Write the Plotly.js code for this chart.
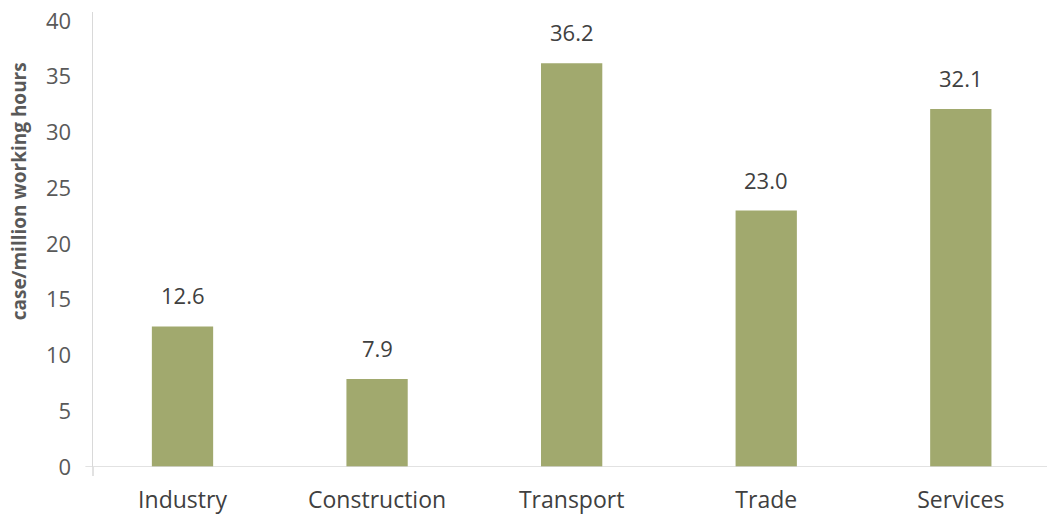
<!DOCTYPE html>
<html>
<head>
<meta charset="utf-8">
<script src="https://cdn.plot.ly/plotly-3.0.1.min.js"></script>
<style>html,body{margin:0;padding:0;background:#fff;}#chart{width:1047px;height:515px;}</style>
</head>
<body>
<div id="chart"></div>
<script>
const categories = ["Industry", "Construction", "Transport", "Trade", "Services"];
const values = [12.6, 7.9, 36.2, 23.0, 32.1];
const valueLabels = ["12.6", "7.9", "36.2", "23.0", "32.1"];
const yTicks = [0, 5, 10, 15, 20, 25, 30, 35, 40];

const FONT = '"Open Sans", "Noto Sans", sans-serif';

const trace = {
  type: 'bar',
  x: categories.map((c, i) => i),
  y: values,
  width: 0.315,
  marker: {color: '#a1a96e', line: {width: 0}},
  hoverinfo: 'skip'
};

const annotations = values.map((v, i) => ({
  x: i, y: v, xref: 'x', yref: 'y',
  text: valueLabels[i], showarrow: false,
  yanchor: 'bottom', yshift: 14,
  font: {family: FONT, size: 22, color: '#404040'}
}));
annotations.push({
  xref: 'paper', yref: 'paper', x: -0.078, y: 0.605,
  xanchor: 'center', yanchor: 'middle', textangle: -90,
  text: 'case/million working hours', showarrow: false,
  font: {family: FONT, size: 19, color: '#595959', weight: 'bold'}
});

const layout = {
  width: 1047, height: 515,
  margin: {l: 93, r: 0, t: 12, b: 48, pad: 0},
  paper_bgcolor: '#ffffff', plot_bgcolor: '#ffffff',
  showlegend: false,
  font: {family: FONT, color: '#595959'},
  xaxis: {
    range: [-0.46, 4.443],
    tickvals: categories.map((c, i) => i),
    ticktext: categories,
    showgrid: false, zeroline: false, showline: false,
    ticks: '', ticklen: 0, ticklabelstandoff: 17,
    tickfont: {family: FONT, size: 23, color: '#404040'},
    fixedrange: true
  },
  yaxis: {
    range: [0, 40.8],
    tickvals: yTicks,
    ticktext: yTicks.map(String),
    showgrid: false, zeroline: false,
    showline: true, linecolor: '#d9d9d9', linewidth: 1.5,
    ticks: '', ticklabelstandoff: 16,
    tickfont: {family: FONT, size: 22, color: '#595959'},
    fixedrange: true
  },
  shapes: [
    {type: 'line', xref: 'paper', yref: 'y', x0: -0.008, x1: 1, y0: 0, y1: 0,
     line: {color: '#d9d9d9', width: 1.5}},
    {type: 'line', xref: 'paper', yref: 'paper', x0: 0, x1: 0, y0: -0.02, y1: 0,
     line: {color: '#d9d9d9', width: 1.5}}
  ],
  annotations: annotations
};

Plotly.newPlot('chart', [trace], layout, {displayModeBar: false, staticPlot: true});
</script>
</body>
</html>
